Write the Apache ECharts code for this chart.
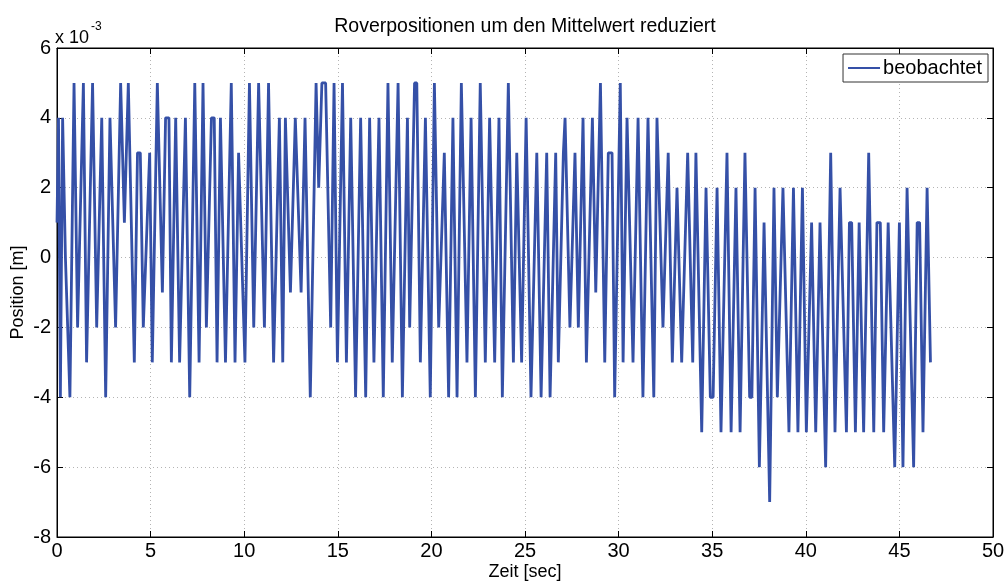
<!DOCTYPE html>
<html>
<head>
<meta charset="utf-8">
<script src="https://cdn.jsdelivr.net/npm/echarts@6/dist/echarts.min.js"></script>
<style>
  html, body { margin: 0; padding: 0; background: #fff; }
  #chart { width: 1007px; height: 584px; }
</style>
</head>
<body>
<div id="chart"></div>
<script>
// Rover position minus its mean, in units of 1e-3 m, against time in seconds.
const timeSec = [
  0.00, 0.08, 0.18, 0.30, 0.45, 0.69, 0.91, 1.10, 1.41, 1.58, 1.90, 1.98, 2.12, 2.39, 2.60, 2.83,
  3.13, 3.40, 3.60, 3.81, 4.13, 4.30, 4.45, 4.61, 4.95, 5.09, 5.36, 5.63, 5.80, 5.98, 6.11, 6.34,
  6.55, 6.86, 7.09, 7.36, 7.59, 7.80, 7.98, 8.25, 8.40, 8.55, 8.73, 9.00, 9.31, 9.51, 9.70, 9.80,
  10.04, 10.28, 10.51, 10.77, 11.08, 11.30, 11.40, 11.57, 11.88, 12.06, 12.20, 12.47, 12.73, 13.04,
  13.25, 13.53, 13.84, 13.98, 14.15, 14.35, 14.62, 14.80, 14.98, 15.25, 15.46, 15.69, 15.95, 16.22,
  16.49, 16.70, 16.80, 16.93, 17.20, 17.43, 17.68, 17.91, 18.22, 18.45, 18.72, 18.84, 19.10, 19.22,
  19.41, 19.68, 19.94, 20.16, 20.39, 20.69, 20.92, 21.15, 21.37, 21.60, 21.90, 22.12, 22.35, 22.61,
  22.88, 23.11, 23.38, 23.61, 23.79, 24.11, 24.38, 24.56, 24.82, 25.06, 25.32, 25.63, 25.86, 26.16,
  26.34, 26.64, 26.78, 27.05, 27.14, 27.40, 27.67, 27.85, 28.10, 28.28, 28.60, 28.78, 29.03, 29.26,
  29.45, 29.65, 29.79, 30.09, 30.24, 30.45, 30.77, 31.04, 31.30, 31.57, 31.88, 32.05, 32.37, 32.65,
  32.75, 32.87, 33.12, 33.37, 33.69, 33.96, 34.13, 34.44, 34.67, 34.90, 35.05, 35.26, 35.47, 35.79,
  36.01, 36.27, 36.49, 36.75, 37.00, 37.12, 37.29, 37.52, 37.77, 38.07, 38.30, 38.48, 38.78, 39.10,
  39.34, 39.58, 39.82, 40.03, 40.31, 40.53, 40.76, 41.06, 41.33, 41.56, 41.83, 42.17, 42.33, 42.45,
  42.65, 42.85, 42.95, 43.09, 43.36, 43.63, 43.80, 43.98, 44.16, 44.40, 44.50, 44.75, 45.00, 45.19,
  45.41, 45.76, 45.95, 46.08, 46.26, 46.48, 46.66
];
const positionMm = [
  1, 4, -4, 4, 0, -4, 5, -2, 5, -3, 5, 5, -2, 4, -4, 4,
  -2, 5, 1, 5, -3, 3, 3, -2, 3, -3, 5, -1, 4, 4, -3, 4,
  -3, 4, -4, 5, -3, 5, -2, 4, 4, -3, 4, -3, 5, -3, 3, 3,
  -3, 5, -2, 5, -2, 5, 5, -3, 4, -3, 4, -1, 4, -1,
  4, -4, 5, 2, 5, 5, -2, 5, -3, 5, -3, 4, -4, 4,
  -4, 4, 4, -3, 4, -4, 5, -3, 5, -4, 4, -2, 5, 5,
  -3, 4, -4, 5, -2, 3, -4, 4, -4, 5, -3, 4, -4, 5,
  -3, 4, -3, 4, -4, 5, -3, 3, -3, 4, -4, 3, -4, 3,
  -4, 3, -3, 3, 4, -2, 3, -2, 4, -3, 4, -1, 5, -3,
  3, 3, -4, 5, -3, 4, -3, 4, -4, 4, -4, 4, -2, 3,
  3, -3, 2, -3, 3, -3, 3, -5, 2, -4, -4, 2, -5, 3,
  -5, 2, -5, 3, -4, -4, 2, -6, 1, -7, 2, -4, 2, -5,
  2, -5, 2, -5, 1, -5, 1, -6, 3, -5, 2, -5, 1, 1,
  -5, 1, 1, -5, 3, -5, 1, 1, -5, 1, 1, -6, 1, -6,
  2, -6, 1, 1, -5, 2, -3
];
const xTicks = [0, 50, 5];   // min, max, step
const yTicks = [-8, 6, 2];   // min, max, step (x 10^-3)
const seriesName = 'beobachtet';

const FONT = '"Liberation Sans", Arial, Helvetica, sans-serif';
const LINE_BLUE = '#3550a7';

const chart = echarts.init(document.getElementById('chart'), null, { renderer: 'canvas' });

const gridSplit = { show: true, lineStyle: { color: '#b4b4b4', type: [1, 3], width: 1 } };
const tickIn = { show: true, inside: true, length: 6, lineStyle: { color: '#000' } };

chart.setOption({
  animation: false,
  backgroundColor: '#fff',
  grid: {
    left: 57, right: 14, top: 48, bottom: 47,
    outerBoundsMode: 'none',
    containLabel: false,
    show: true, borderColor: '#000', borderWidth: 1
  },
  graphic: [
    { type: 'text', x: 525, y: 17,
      style: { text: 'Roverpositionen um den Mittelwert reduziert', font: '19.5px ' + FONT,
               fill: '#000', textAlign: 'center' } },
    { type: 'text', x: 55, y: 29,
      style: { text: 'x 10', font: '18px ' + FONT, fill: '#000' } },
    { type: 'text', x: 91, y: 21,
      style: { text: '-3', font: '12px ' + FONT, fill: '#000' } }
  ],
  legend: {
    data: [{ name: seriesName, icon: 'rect' }],
    right: 19, top: 54,
    orient: 'vertical',
    backgroundColor: '#fff',
    borderColor: '#333',
    borderWidth: 1,
    borderRadius: 0,
    padding: [4, 6, 4, 5],
    itemWidth: 32,
    itemHeight: 2,
    itemGap: 0,
    textStyle: { fontFamily: FONT, fontSize: 20, color: '#000', padding: [0, 0, 0, -2] }
  },
  xAxis: [
    {
      type: 'value', min: xTicks[0], max: xTicks[1], interval: xTicks[2],
      name: 'Zeit [sec]', nameLocation: 'middle', nameGap: 26, nameMoveOverlap: false,
      nameTextStyle: { fontFamily: FONT, fontSize: 18, color: '#000' },
      axisLine: { show: true, onZero: false, lineStyle: { color: '#000' } },
      axisTick: tickIn,
      axisLabel: { fontFamily: FONT, fontSize: 20, color: '#000', margin: 4 },
      splitLine: gridSplit
    },
    {
      type: 'value', position: 'top', min: xTicks[0], max: xTicks[1], interval: xTicks[2],
      axisLine: { show: true, onZero: false, lineStyle: { color: '#000' } },
      axisTick: tickIn, axisLabel: { show: false }, splitLine: { show: false }
    }
  ],
  yAxis: [
    {
      type: 'value', min: yTicks[0], max: yTicks[1], interval: yTicks[2],
      name: 'Position [m]', nameLocation: 'middle', nameGap: 30, nameRotate: 90,
      nameMoveOverlap: false,
      nameTextStyle: { fontFamily: FONT, fontSize: 18, color: '#000' },
      axisLine: { show: true, onZero: false, lineStyle: { color: '#000' } },
      axisTick: tickIn,
      axisLabel: { fontFamily: FONT, fontSize: 20, color: '#000', margin: 6 },
      splitLine: gridSplit
    },
    {
      type: 'value', position: 'right', min: yTicks[0], max: yTicks[1], interval: yTicks[2],
      axisLine: { show: true, onZero: false, lineStyle: { color: '#000' } },
      axisTick: tickIn, axisLabel: { show: false }, splitLine: { show: false }
    }
  ],
  series: [
    {
      name: seriesName,
      type: 'line',
      xAxisIndex: 0, yAxisIndex: 0,
      data: timeSec.map((t, i) => [t, positionMm[i]]),
      symbol: 'none',
      showSymbol: false,
      lineStyle: { color: LINE_BLUE, width: 2.8 },
      itemStyle: { color: LINE_BLUE }
    }
  ]
});
</script>
</body>
</html>
